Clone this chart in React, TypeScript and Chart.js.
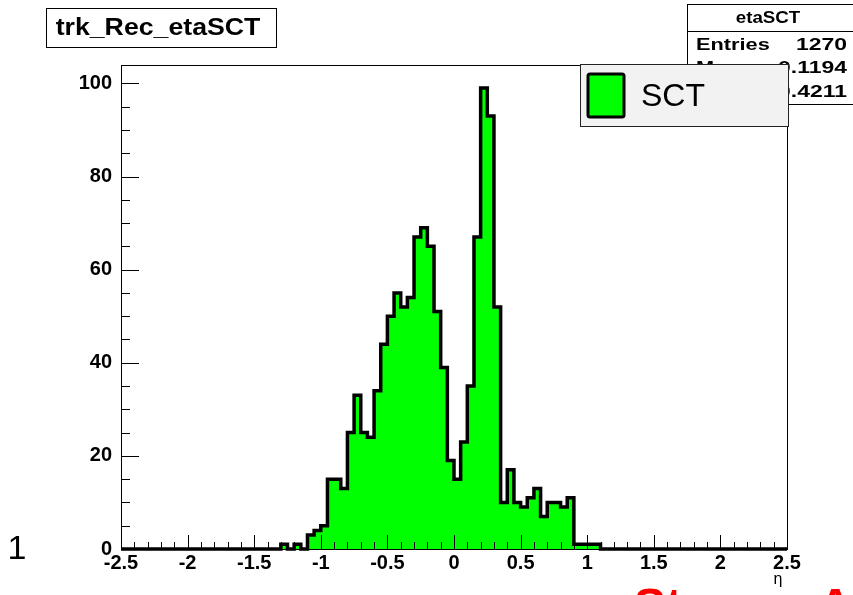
import React, { useEffect, useRef } from "react";
import { Chart, registerables } from "chart.js";

Chart.register(...registerables);

// ---------- data ----------
const histTitle = "trk_Rec_etaSCT";
const xAxisTitle = "η";
const binLow = -2.5;
const binWidth = 0.05;
// 100 bins of eta from -2.5 to 2.5
const counts = [
  0, 0, 0, 0, 0, 0, 0, 0, 0, 0,
  0, 0, 0, 0, 0, 0, 0, 0, 0, 0,
  0, 0, 0, 0, 1, 0, 1, 0, 3, 4,
  5, 15, 15, 13, 25, 33, 25, 24, 34, 44,
  50, 55, 52, 54, 67, 69, 65, 51, 39, 19,
  15, 23, 35, 67, 99, 93, 52, 10, 17, 10,
  9, 11, 13, 7, 10, 10, 9, 11, 1, 1,
  1, 1, 0, 0, 0, 0, 0, 0, 0, 0,
  0, 0, 0, 0, 0, 0, 0, 0, 0, 0,
  0, 0, 0, 0, 0, 0, 0, 0, 0, 0,
];
const xTicks = [-2.5, -2, -1.5, -1, -0.5, 0, 0.5, 1, 1.5, 2, 2.5];
const yTicks = [0, 20, 40, 60, 80, 100];
const xMin = -2.5;
const xMax = 2.5;
const yMax = 103.95;
const xMinorStep = 0.1;
const yMinorStep = 5;

const statsName = "etaSCT";
const statsLabels = ["Entries", "Mean", "RMS"];
const statsValues = ["1270", "-0.1194", "0.4211"];
const legendLabel = "SCT";
const pageNumber = "1";
const footerPieces = ["St", "A"];

const FONT = "'Liberation Sans', Arial, Helvetica, sans-serif";

function txt(
  ctx: CanvasRenderingContext2D,
  s: string,
  x: number,
  y: number,
  font: string,
  align: CanvasTextAlign,
  sx = 1,
  color = "#000",
  baseline: CanvasTextBaseline = "middle"
) {
  ctx.save();
  ctx.font = font;
  ctx.fillStyle = color;
  ctx.textAlign = align;
  ctx.textBaseline = baseline;
  ctx.translate(x, y);
  ctx.scale(sx, 1);
  ctx.fillText(s, 0, 0);
  ctx.restore();
}

const decorPlugin = {
  id: "rootDecor",
  beforeDraw(chart: any) {
    const ctx = chart.ctx as CanvasRenderingContext2D;
    ctx.save();
    ctx.fillStyle = "#fff";
    ctx.fillRect(0, 0, chart.width, chart.height);
    ctx.restore();
  },
  afterDatasetsDraw(chart: any) {
    const ctx = chart.ctx as CanvasRenderingContext2D;
    const a = chart.chartArea;
    const xs = chart.scales.x;
    const ys = chart.scales.y;
    ctx.save();
    // frame
    ctx.strokeStyle = "#000";
    ctx.lineWidth = 1;
    ctx.strokeRect(Math.round(a.left) + 0.5, Math.round(a.top) + 0.5, Math.round(a.right - a.left), Math.round(a.bottom - a.top));
    // x ticks (inward)
    ctx.beginPath();
    const nx = Math.round((xMax - xMin) / xMinorStep);
    for (let i = 0; i <= nx; i++) {
      const v = xMin + i * xMinorStep;
      const px = Math.round(xs.getPixelForValue(v)) + 0.5;
      const major = i % 5 === 0;
      ctx.moveTo(px, a.bottom);
      ctx.lineTo(px, a.bottom - (major ? 14 : 7));
    }
    const ny = Math.floor(yMax / yMinorStep);
    for (let i = 0; i <= ny; i++) {
      const v = i * yMinorStep;
      const py = Math.round(ys.getPixelForValue(v)) + 0.5;
      const major = i % 4 === 0;
      ctx.moveTo(a.left, py);
      ctx.lineTo(a.left + (major ? 18 : 9), py);
    }
    ctx.stroke();

    // title box
    ctx.fillStyle = "#fff";
    ctx.fillRect(46, 8, 230, 39);
    ctx.strokeRect(46.5, 8.5, 230, 39);
    txt(ctx, histTitle, 158, 29, `bold 23px ${FONT}`, "center", 1.16);

    // stats box
    ctx.fillStyle = "#fff";
    ctx.fillRect(687, 4, 180, 100);
    ctx.strokeRect(687.5, 4.5, 180, 100);
    ctx.beginPath();
    ctx.moveTo(687, 31.5);
    ctx.lineTo(860, 31.5);
    ctx.stroke();
    txt(ctx, statsName, 768, 18, `bold 17px ${FONT}`, "center", 1.1);
    const rowY = [45, 68.5, 92];
    statsLabels.forEach((l, i) => {
      txt(ctx, l, 696, rowY[i], `bold 17px ${FONT}`, "left", 1.28);
      txt(ctx, statsValues[i], 847, rowY[i], `bold 17px ${FONT}`, "right", 1.35);
    });

    // legend box
    ctx.fillStyle = "#f2f2f2";
    ctx.fillRect(580, 64, 208, 62);
    ctx.strokeStyle = "#222";
    ctx.strokeRect(580.5, 64.5, 208, 62);
    ctx.fillStyle = "#00ff00";
    ctx.strokeStyle = "#000";
    ctx.lineWidth = 3;
    ctx.beginPath();
    (ctx as any).roundRect ? (ctx as any).roundRect(588, 74, 36, 43, 2) : ctx.rect(588, 74, 36, 43);
    ctx.fill();
    ctx.stroke();
    txt(ctx, legendLabel, 641, 97, `32px ${FONT}`, "left");

    // axis title
    txt(ctx, xAxisTitle, 778, 580, `16px ${FONT}`, "center");
    // page artefacts
    txt(ctx, pageNumber, 17, 550, `34px ${FONT}`, "center");
    txt(ctx, footerPieces[0], 634, 622, `bold 48px ${FONT}`, "left", 1, "#ff0000", "alphabetic");
    txt(ctx, footerPieces[1], 818, 622, `bold 48px ${FONT}`, "left", 1, "#ff0000", "alphabetic");
    ctx.restore();
  },
};

export default function App() {
  const ref = useRef<HTMLCanvasElement>(null);
  useEffect(() => {
    const points = counts.map((c, i) => ({ x: binLow + i * binWidth, y: c }));
    points.push({ x: binLow + counts.length * binWidth, y: counts[counts.length - 1] });
    const tickFont = { family: FONT, size: 20, weight: "bold" as const };
    const chart = new Chart(ref.current!, {
      type: "line",
      data: {
        datasets: [
          {
            label: legendLabel,
            data: points,
            stepped: "before",
            borderColor: "#000",
            borderWidth: 3.5,
            backgroundColor: "#00ff00",
            fill: "origin",
            pointRadius: 0,
            clip: 4,
          } as any,
        ],
      },
      options: {
        animation: false,
        responsive: false,
        events: [],
        layout: { padding: { left: 0, top: 65, right: 66, bottom: 0 } },
        plugins: {
          legend: { display: false },
          tooltip: { enabled: false },
          title: { display: false },
        },
        scales: {
          x: {
            type: "linear",
            min: xMin,
            max: xMax,
            grid: { display: false, drawTicks: false },
            border: { display: false },
            afterBuildTicks: (s: any) => {
              s.ticks = xTicks.map((v) => ({ value: v }));
            },
            afterFit: (s: any) => {
              s.height = 46;
            },
            ticks: {
              autoSkip: false,
              maxRotation: 0,
              minRotation: 0,
              padding: 2,
              color: "#000",
              font: tickFont,
              callback: (v: any) => String(Math.round(Number(v) * 10) / 10),
            },
          },
          y: {
            type: "linear",
            min: 0,
            max: yMax,
            grid: { display: false, drawTicks: false },
            border: { display: false },
            afterBuildTicks: (s: any) => {
              s.ticks = yTicks.map((v) => ({ value: v }));
            },
            afterFit: (s: any) => {
              s.width = 121;
            },
            ticks: {
              autoSkip: false,
              padding: 9,
              color: "#000",
              font: tickFont,
              callback: (v: any) => String(v),
            },
          },
        },
      },
      plugins: [decorPlugin],
    });
    return () => chart.destroy();
  }, []);
  return (
    <div style={{ position: "absolute", left: 0, top: 0, width: 853, height: 595, background: "#fff", overflow: "hidden" }}>
      <canvas ref={ref} width={853} height={595} style={{ display: "block", width: 853, height: 595 }} />
    </div>
  );
}
